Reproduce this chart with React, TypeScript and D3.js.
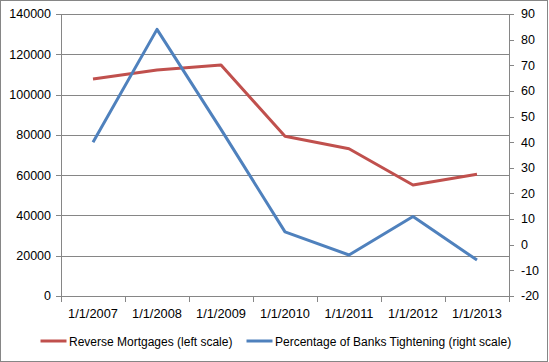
import React, { useRef, useEffect } from 'react'
import { select, scaleBand, scaleLinear, line, range } from 'd3'

const years = ['1/1/2007', '1/1/2008', '1/1/2009', '1/1/2010', '1/1/2011', '1/1/2012', '1/1/2013']
const reverseMortgages = [107700, 112200, 114700, 79300, 73100, 55100, 60400]
const banksTightening = [40, 84, 45, 5, -4, 11, -6]
const leftTicks = [0, 20000, 40000, 60000, 80000, 100000, 120000, 140000]
const rightTicks = [-20, -10, 0, 10, 20, 30, 40, 50, 60, 70, 80, 90]
const seriesNames = ['Reverse Mortgages (left scale)', 'Percentage of Banks Tightening (right scale)']
const colors = ['#C0504D', '#4F81BD']

function App() {
  const svgRef = useRef<SVGSVGElement>(null)

  useEffect(() => {
    const width = 549, height = 362
    const plot = { left: 61, right: 509, top: 14, bottom: 296 }
    const font = "'Liberation Sans', Arial, sans-serif"
    const axisColor = '#868686'

    const svg = select(svgRef.current)
    svg.selectAll('*').remove()
    svg.attr('width', width).attr('height', height)

    svg.append('rect')
      .attr('x', 0.5).attr('y', 0.5)
      .attr('width', 547).attr('height', 361)
      .attr('fill', '#fff').attr('stroke', axisColor)

    const x = scaleBand().domain(years).range([plot.left, plot.right])
    const yLeft = scaleLinear().domain([0, 140000]).range([plot.bottom, plot.top])
    const yRight = scaleLinear().domain([-20, 90]).range([plot.bottom, plot.top])

    // gridlines + left axis
    const g = svg.append('g').attr('shape-rendering', 'crispEdges')
    g.selectAll('line.grid').data(leftTicks).enter().append('line')
      .attr('x1', plot.left - 5).attr('x2', plot.right)
      .attr('y1', d => Math.round(yLeft(d)) + 0.5).attr('y2', d => Math.round(yLeft(d)) + 0.5)
      .attr('stroke', axisColor)
    g.append('line')
      .attr('x1', plot.left + 0.5).attr('x2', plot.left + 0.5)
      .attr('y1', plot.top).attr('y2', plot.bottom + 1)
      .attr('stroke', axisColor)

    // right axis
    g.append('line')
      .attr('x1', plot.right + 0.5).attr('x2', plot.right + 0.5)
      .attr('y1', plot.top).attr('y2', plot.bottom + 1)
      .attr('stroke', axisColor)
    g.selectAll('line.rtick').data(rightTicks).enter().append('line')
      .attr('x1', plot.right).attr('x2', plot.right + 5)
      .attr('y1', d => Math.round(yRight(d)) + 0.5).attr('y2', d => Math.round(yRight(d)) + 0.5)
      .attr('stroke', axisColor)

    // category ticks
    const edges = range(years.length + 1).map(i => plot.left + i * x.step())
    g.selectAll('line.xtick').data(edges).enter().append('line')
      .attr('x1', d => Math.round(d) + 0.5).attr('x2', d => Math.round(d) + 0.5)
      .attr('y1', plot.bottom).attr('y2', plot.bottom + 6)
      .attr('stroke', axisColor)

    svg.selectAll('text.left').data(leftTicks).enter().append('text')
      .attr('x', 51).attr('y', d => yLeft(d)).attr('dy', '0.35em')
      .attr('text-anchor', 'end')
      .attr('font-family', font).attr('font-size', 12.5).attr('fill', '#000')
      .text(d => String(d))

    svg.selectAll('text.right').data(rightTicks).enter().append('text')
      .attr('x', 521).attr('y', d => yRight(d)).attr('dy', '0.35em')
      .attr('font-family', font).attr('font-size', 12.5).attr('fill', '#000')
      .text(d => String(d))

    svg.selectAll('text.cat').data(years).enter().append('text')
      .attr('x', d => (x(d) as number) + x.bandwidth() / 2).attr('y', 313.5).attr('dy', '0.35em')
      .attr('text-anchor', 'middle')
      .attr('font-family', font).attr('font-size', 12.8).attr('fill', '#000')
      .text(d => d)

    const cx = (i: number) => (x(years[i]) as number) + x.bandwidth() / 2
    const redLine = line<number>().x((d, i) => cx(i)).y(d => yLeft(d))
    const blueLine = line<number>().x((d, i) => cx(i)).y(d => yRight(d))

    svg.append('path').attr('d', redLine(reverseMortgages))
      .attr('fill', 'none').attr('stroke', colors[0]).attr('stroke-width', 3)
      .attr('stroke-linejoin', 'round')
    svg.append('path').attr('d', blueLine(banksTightening))
      .attr('fill', 'none').attr('stroke', colors[1]).attr('stroke-width', 3)
      .attr('stroke-linejoin', 'round')

    // legend
    const legendX = [40.5, 246.5]
    seriesNames.forEach((name, i) => {
      svg.append('line')
        .attr('x1', legendX[i]).attr('x2', legendX[i] + 26)
        .attr('y1', 341).attr('y2', 341)
        .attr('stroke', colors[i]).attr('stroke-width', 3)
      svg.append('text')
        .attr('x', legendX[i] + 28.5).attr('y', 342).attr('dy', '0.35em')
        .attr('font-family', font).attr('font-size', 12).attr('fill', '#000')
        .text(name)
    })
  }, [])

  return (
    <svg ref={svgRef} style={{ position: 'absolute', left: 0, top: 0, display: 'block' }}></svg>
  )
}

export default App
